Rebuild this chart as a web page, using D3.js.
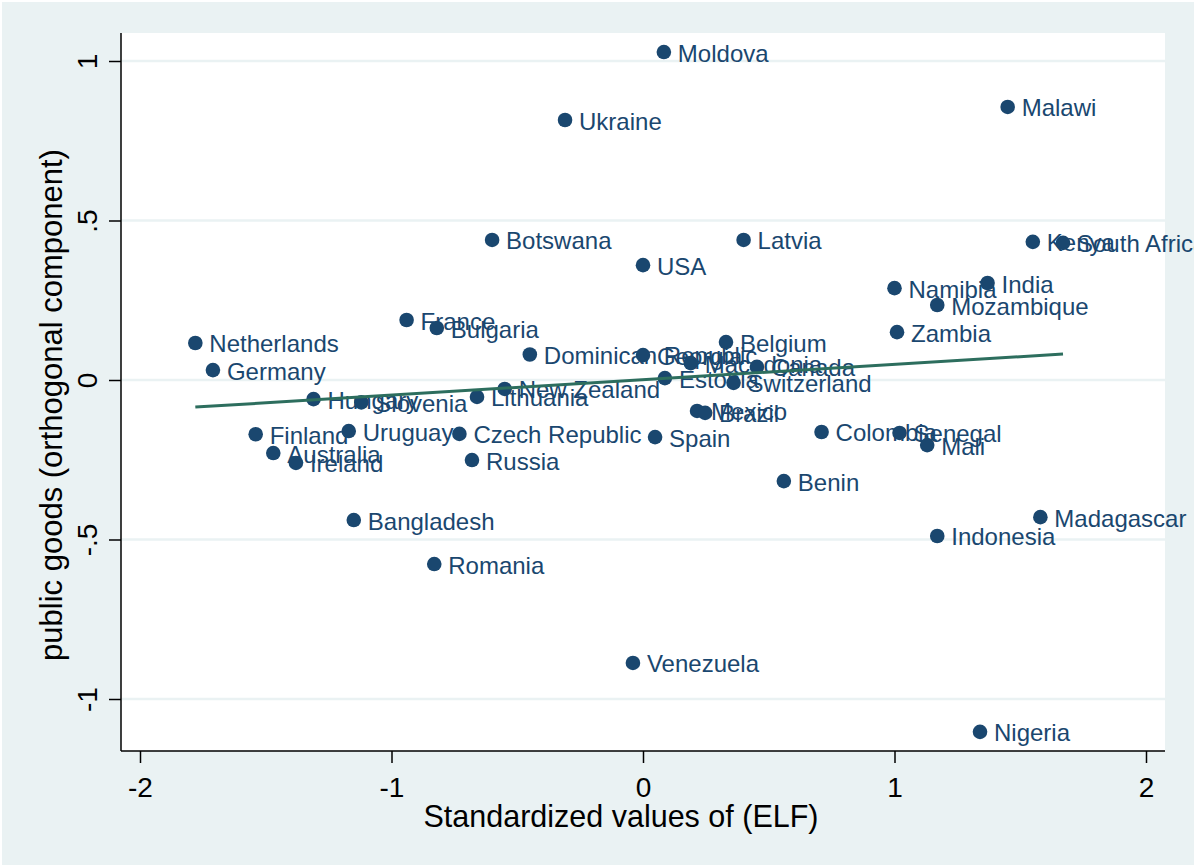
<!DOCTYPE html>
<html>
<head>
<meta charset="utf-8">
<script src="https://cdn.jsdelivr.net/npm/d3@7"></script>
<style>
	body { margin: 0; background: #fff; }
	svg text { font-family: Arial, "Liberation Sans", sans-serif; }
</style>
</head>
<body>
<svg id="chart"></svg>
<script>
	// countries, standardized ELF (x) and public goods orthogonal component (y)
	var countries = ["Netherlands","Germany","Finland","Australia","Ireland","Hungary","Uruguay","Bangladesh","Slovenia",
		"France","Romania","Bulgaria","Czech Republic","Russia","Lithuania","Botswana","New Zealand","Dominican Republic",
		"Ukraine","Venezuela","Georgia","USA","Spain","Moldova","Estonia","Macedonia","Mexico","Brazil","Belgium",
		"Switzerland","Latvia","Canada","Benin","Colombia","Namibia","Zambia","Senegal","Mali","Mozambique","Indonesia",
		"Nigeria","India","Malawi","Kenya","Madagascar","South Africa"];
	var elf = [-1.78,-1.71,-1.54,-1.47,-1.38,-1.31,-1.17,-1.15,-1.12,
		-0.94,-0.83,-0.82,-0.73,-0.68,-0.66,-0.60,-0.55,-0.45,
		-0.31,-0.04,0.00,0.00,0.048,0.083,0.087,0.19,0.215,0.247,0.33,
		0.36,0.40,0.453,0.56,0.71,1.00,1.01,1.02,1.13,1.17,1.17,
		1.34,1.37,1.45,1.55,1.58,1.67];
	var goods = [0.116,0.031,-0.17,-0.229,-0.26,-0.06,-0.16,-0.439,-0.07,
		0.188,-0.577,0.163,-0.169,-0.251,-0.053,0.439,-0.028,0.08,
		0.815,-0.887,0.078,0.36,-0.179,1.028,0.006,0.053,-0.097,-0.103,0.119,
		-0.009,0.439,0.041,-0.317,-0.163,0.288,0.15,-0.166,-0.204,0.235,-0.489,
		-1.103,0.304,0.856,0.433,-0.43,0.43];

	// linear fit endpoints
	var fitX = [-1.78, 1.67];
	var fitY = [-0.085, 0.0815];

	var xTicks = [-2, -1, 0, 1, 2];
	var xTickLabels = ["-2", "-1", "0", "1", "2"];
	var yTicks = [1, 0.5, 0, -0.5, -1];
	var yTickLabels = ["1", ".5", "0", "-.5", "-1"];

	var svgWidth = 1194, svgHeight = 867;
	var plotLeft = 121, plotRight = 1165, plotTop = 33, plotBottom = 751;
	var navy = "#1a476f";

	var svg = d3.select("svg#chart")
		.attr("width", svgWidth)
		.attr("height", svgHeight);

	// outer graph region
	svg.append("rect")
		.attr("x", 2)
		.attr("y", 2)
		.attr("width", svgWidth - 2)
		.attr("height", svgHeight - 4)
		.attr("fill", "#eaf2f3");

	// plot region
	svg.append("rect")
		.attr("x", plotLeft)
		.attr("y", plotTop)
		.attr("width", plotRight - plotLeft)
		.attr("height", plotBottom - plotTop)
		.attr("fill", "#fff");

	var xScale = d3.scaleLinear()
		.domain([-2, 2])
		.range([140, 1146]);

	var yScale = d3.scaleLinear()
		.domain([-1, 1])
		.range([699, 61]);

	// horizontal grid
	svg.append("g")
		.selectAll("line")
		.data(yTicks)
	  .enter().append("line")
		.attr("x1", plotLeft)
		.attr("x2", plotRight)
		.attr("y1", function(d) { return yScale(d); })
		.attr("y2", function(d) { return yScale(d); })
		.style("stroke", "#eaf2f3")
		.style("stroke-width", "2.5px");

	// y axis
	var yAxis = d3.axisLeft(yScale)
		.tickValues(yTicks)
		.tickSize(12)
		.tickPadding(0)
		.tickFormat(function(d, i) { return yTickLabels[i]; });

	var gy = svg.append("g")
		.attr("transform", "translate(" + plotLeft + ",0)")
		.call(yAxis);
	gy.select(".domain").remove();
	gy.selectAll(".tick line").style("stroke", "#000").style("stroke-width", "1.5px");
	gy.selectAll(".tick text")
		.attr("x", null)
		.attr("dy", null)
		.attr("transform", "translate(-24,0) rotate(-90)")
		.attr("text-anchor", "middle")
		.style("font-size", "28px")
		.style("fill", "#000");

	svg.append("line")
		.attr("x1", plotLeft)
		.attr("x2", plotLeft)
		.attr("y1", plotTop)
		.attr("y2", plotBottom)
		.style("stroke", "#000")
		.style("stroke-width", "1.5px");

	// x axis
	var xAxis = d3.axisBottom(xScale)
		.tickValues(xTicks)
		.tickSize(12)
		.tickFormat(function(d, i) { return xTickLabels[i]; });

	var gx = svg.append("g")
		.attr("transform", "translate(0," + plotBottom + ")")
		.call(xAxis);
	gx.select(".domain").remove();
	gx.selectAll(".tick line").style("stroke", "#000").style("stroke-width", "1.5px");
	gx.selectAll(".tick text")
		.attr("y", 46)
		.attr("dy", null)
		.style("font-size", "28px")
		.style("fill", "#000");

	svg.append("line")
		.attr("x1", plotLeft)
		.attr("x2", plotRight)
		.attr("y1", plotBottom)
		.attr("y2", plotBottom)
		.style("stroke", "#000")
		.style("stroke-width", "1.5px");

	// axis titles
	svg.append("text")
		.attr("x", 621)
		.attr("y", 827)
		.attr("text-anchor", "middle")
		.style("font-size", "30.5px")
		.style("fill", "#000")
		.text("Standardized values of (ELF)");

	svg.append("text")
		.attr("transform", "translate(62,405) rotate(-90)")
		.attr("text-anchor", "middle")
		.style("font-size", "31px")
		.style("fill", "#000")
		.text("public goods (orthogonal component)");

	// points with labels, drawn one after another like stata does
	var points = countries.map(function(c, i) { return {name: c, x: elf[i], y: goods[i]}; });

	var pts = svg.append("g")
		.selectAll("g")
		.data(points)
	  .enter().append("g")
		.attr("transform", function(d) { return "translate(" + xScale(d.x) + "," + yScale(d.y) + ")"; });

	pts.append("circle")
		.attr("r", 7.3)
		.style("fill", navy);

	pts.append("text")
		.attr("x", 14)
		.attr("y", 9.5)
		.style("font-size", "24px")
		.style("fill", navy)
		.text(function(d) { return d.name; });

	// fitted line
	var line = d3.line()
		.x(function(d) { return xScale(d[0]); })
		.y(function(d) { return yScale(d[1]); });

	svg.append("path")
		.datum(d3.zip(fitX, fitY))
		.attr("d", line)
		.style("fill", "none")
		.style("stroke", "#2d6e5e")
		.style("stroke-width", "3px");
</script>
</body>
</html>
